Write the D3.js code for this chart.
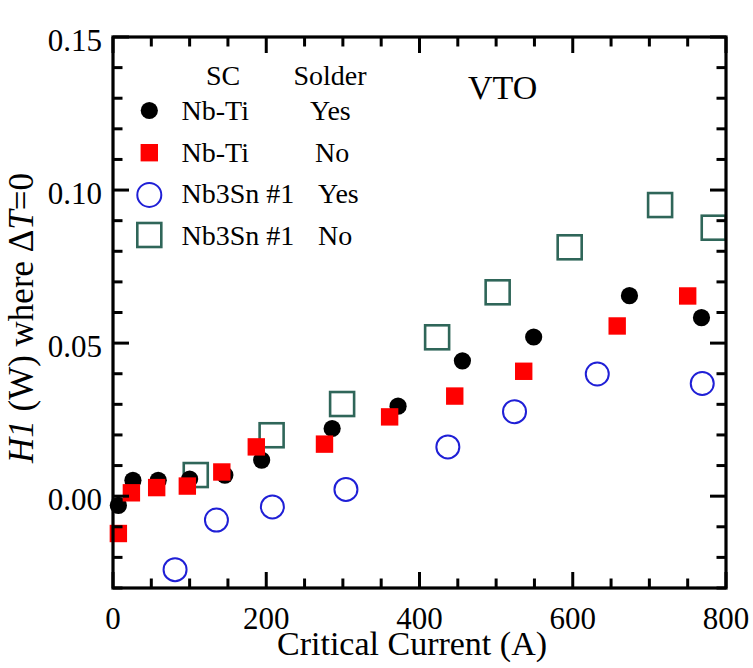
<!DOCTYPE html>
<html>
<head>
<meta charset="utf-8">
<script src="https://cdn.jsdelivr.net/npm/d3@7"></script>
</head>
<body style="margin:0">
<svg id="chart" width="753" height="668" style="font-family:'Liberation Serif'"></svg>
<script>
// ---- data ----
const nbtiYesX = [7, 26, 59, 100, 146, 194, 286, 372, 456, 549, 674, 768];
const nbtiYesY = [-0.003, 0.0052, 0.0052, 0.0056, 0.0069, 0.0118, 0.0221, 0.0294, 0.0442, 0.052, 0.0655, 0.0583];

const nbtiNoX = [7, 24, 57, 97, 142, 187, 276, 361, 446, 536, 658, 750];
const nbtiNoY = [-0.0122, 0.0011, 0.0028, 0.0033, 0.0079, 0.0161, 0.017, 0.0259, 0.0327, 0.0408, 0.0556, 0.0654];

const nb3snYesX = [81, 135, 208, 304, 437, 524, 632, 769];
const nb3snYesY = [-0.024, -0.0078, -0.0035, 0.0022, 0.0161, 0.0276, 0.0399, 0.0368];

const nb3snNoX = [108, 207, 299, 423, 502, 596, 714, 784];
const nb3snNoY = [0.0069, 0.0199, 0.0301, 0.0519, 0.0666, 0.0813, 0.0951, 0.0877];

const xMajorTicks = [0, 200, 400, 600, 800];
const yMajorTicks = [0.00, 0.05, 0.10, 0.15];
const legendSC = ["Nb-Ti", "Nb-Ti", "Nb3Sn #1", "Nb3Sn #1"];
const legendSolder = ["Yes", "No", "Yes", "No"];

// ---- layout ----
const svg = d3.select("#chart");
const L = 113, R = 726, T = 37, B = 588;
const x = d3.scaleLinear().domain([0, 800]).range([L, R]);
const y = d3.scaleLinear().domain([-0.03, 0.15]).range([B, T]);

const xMinor = d3.range(0, 801, 50);
const yMinor = d3.range(-3, 16, 1).map(d => d / 100);

const blue = "#1f1fd6", green = "#2f6659", red = "#ff0000";

function txt(sel, size) {
  return sel.append("text").style("font-family", "'Liberation Serif'").attr("font-size", size);
}

// ---- points ----
const g = svg.append("g");
const zip = (xs, ys) => xs.map((v, i) => ({x: v, y: ys[i]}));

g.selectAll("rect.s4").data(zip(nb3snNoX, nb3snNoY)).join("rect")
  .attr("x", d => x(d.x) - 12).attr("y", d => y(d.y) - 12)
  .attr("width", 24).attr("height", 24)
  .attr("fill", "none").attr("stroke", green).attr("stroke-width", 2.6);

g.selectAll("circle.s3").data(zip(nb3snYesX, nb3snYesY)).join("circle")
  .attr("cx", d => x(d.x)).attr("cy", d => y(d.y)).attr("r", 11.5)
  .attr("fill", "none").attr("stroke", blue).attr("stroke-width", 2);

g.selectAll("circle.s1").data(zip(nbtiYesX, nbtiYesY)).join("circle")
  .attr("cx", d => x(d.x)).attr("cy", d => y(d.y)).attr("r", 8.6)
  .attr("fill", "#000");

g.selectAll("rect.s2").data(zip(nbtiNoX, nbtiNoY)).join("rect")
  .attr("x", d => x(d.x) - 8.7).attr("y", d => y(d.y) - 8.7)
  .attr("width", 17.4).attr("height", 17.4)
  .attr("fill", red);

// ---- frame & ticks ----
const ax = svg.append("g");
const majLen = 16, minLen = 9.5;
const tw = 3;
xMinor.forEach(v => {
  const len = xMajorTicks.includes(v) ? majLen : minLen;
  ax.append("line").attr("x1", x(v)).attr("x2", x(v)).attr("y1", B).attr("y2", B - len)
    .attr("stroke", "#000").attr("stroke-width", tw);
  ax.append("line").attr("x1", x(v)).attr("x2", x(v)).attr("y1", T).attr("y2", T + len)
    .attr("stroke", "#000").attr("stroke-width", tw);
});
yMinor.forEach(v => {
  const isMaj = yMajorTicks.some(m => Math.abs(m - v) < 1e-9);
  const len = isMaj ? majLen : minLen;
  ax.append("line").attr("x1", L).attr("x2", L + len).attr("y1", y(v)).attr("y2", y(v))
    .attr("stroke", "#000").attr("stroke-width", tw);
  ax.append("line").attr("x1", R).attr("x2", R - len).attr("y1", y(v)).attr("y2", y(v))
    .attr("stroke", "#000").attr("stroke-width", tw);
});
ax.append("rect").attr("x", L).attr("y", T).attr("width", R - L).attr("height", B - T)
  .attr("fill", "none").attr("stroke", "#000").attr("stroke-width", 3.2);

// tick labels
xMajorTicks.forEach(d => {
  txt(ax, 31).attr("x", x(d)).attr("y", 629).attr("text-anchor", "middle").text(d);
});
yMajorTicks.forEach(d => {
  txt(ax, 31).attr("x", L - 11).attr("y", y(d) + 14).attr("text-anchor", "end").text(d3.format(".2f")(d));
});

// axis titles
txt(svg, 34).attr("x", 412).attr("y", 655).attr("text-anchor", "middle").text("Critical Current (A)");

const yt = txt(svg, 35).attr("transform", "translate(33,318) rotate(-90)").attr("text-anchor", "middle");
yt.append("tspan").style("font-style", "italic").text("H1");
yt.append("tspan").text(" (W) where \u0394");
yt.append("tspan").style("font-style", "italic").text("T");
yt.append("tspan").text("=0");

// ---- legend ----
const lg = svg.append("g");
txt(lg, 28).attr("x", 223).attr("y", 85).attr("text-anchor", "middle").text("SC");
txt(lg, 28).attr("x", 330).attr("y", 85).attr("text-anchor", "middle").text("Solder");
const rowY = [120, 161.7, 203.4, 245];
const solderX = [310, 315, 318, 318];
legendSC.forEach((t, i) => {
  txt(lg, 28).attr("x", 181.5).attr("y", rowY[i]).text(t);
  txt(lg, 28).attr("x", solderX[i]).attr("y", rowY[i]).text(legendSolder[i]);
});
const mx = 149.3;
lg.append("circle").attr("cx", mx).attr("cy", rowY[0] - 9.5).attr("r", 8.6).attr("fill", "#000");
lg.append("rect").attr("x", mx - 8.7).attr("y", rowY[1] - 9 - 8.7).attr("width", 17.4).attr("height", 17.4).attr("fill", red);
lg.append("circle").attr("cx", mx).attr("cy", rowY[2] - 8.5).attr("r", 12).attr("fill", "none").attr("stroke", blue).attr("stroke-width", 2);
lg.append("rect").attr("x", mx - 12).attr("y", rowY[3] - 10 - 12).attr("width", 24).attr("height", 24).attr("fill", "none").attr("stroke", green).attr("stroke-width", 2.6);

// VTO label
txt(svg, 34).attr("x", 468).attr("y", 99).text("VTO");
</script>
</body>
</html>
